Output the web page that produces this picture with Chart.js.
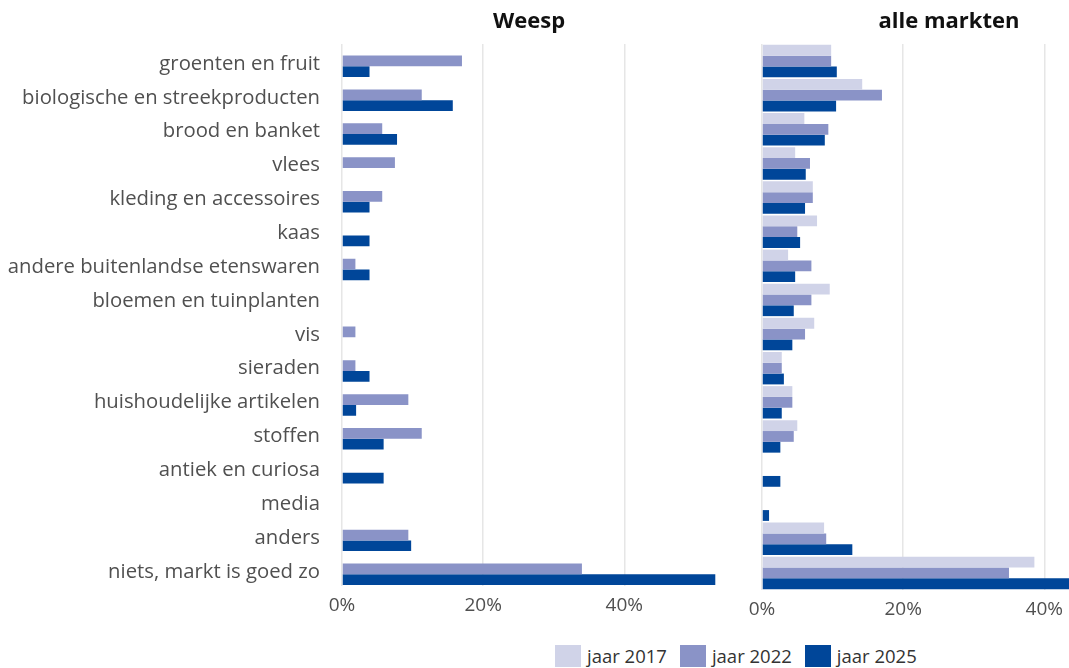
<!DOCTYPE html>
<html>
<head>
<meta charset="utf-8">
<script src="https://cdn.jsdelivr.net/npm/chart.js@4.4.1/dist/chart.umd.min.js"></script>
<style>
  html, body { margin: 0; padding: 0; background: #fff; }
  body { width: 1069px; height: 668px; overflow: hidden; position: relative; font-family: "Open Sans", sans-serif; }
  #leftBox { position: absolute; left: 0; top: 0; width: 720px; height: 620px; }
  #rightBox { position: absolute; left: 740px; top: 0; width: 400px; height: 620px; }
  #legend { position: absolute; left: 555px; top: 645px; display: flex; align-items: center; font-size: 18.5px; line-height: 22px; color: #333; white-space: nowrap; }
  #legend .item { display: flex; align-items: center; margin-right: 13px; }
  #legend .box { width: 26px; height: 22px; margin-right: 6px; }
</style>
</head>
<body>
<div id="leftBox"><canvas id="weespChart"></canvas></div>
<div id="rightBox"><canvas id="alleChart"></canvas></div>
<div id="legend"></div>

<script>
// categories (top to bottom)
const categories = [
    'groenten en fruit',
    'biologische en streekproducten',
    'brood en banket',
    'vlees',
    'kleding en accessoires',
    'kaas',
    'andere buitenlandse etenswaren',
    'bloemen en tuinplanten',
    'vis',
    'sieraden',
    'huishoudelijke artikelen',
    'stoffen',
    'antiek en curiosa',
    'media',
    'anders',
    'niets, markt is goed zo'
];

const seriesNames = ['jaar 2017', 'jaar 2022', 'jaar 2025'];
const seriesColors = ['#d0d3e8', '#8a93c7', '#004699'];

// Weesp (percentages)
const weesp2017 = [null, null, null, null, null, null, null, null, null, null, null, null, null, null, null, null];
const weesp2022 = [17.0, 11.3, 5.7, 7.5, 5.7, null, 1.9, null, 1.9, 1.9, 9.4, 11.3, null, null, 9.4, 34.0];
const weesp2025 = [3.9, 15.7, 7.8, null, 3.9, 3.9, 3.9, null, null, 3.9, 2.0, 5.9, 5.9, null, 9.8, 52.9];

// alle markten (percentages)
const alle2017 = [9.8, 14.2, 6.0, 4.7, 7.2, 7.8, 3.7, 9.6, 7.4, 2.8, 4.3, 5.0, null, null, 8.8, 38.6];
const alle2022 = [9.8, 17.0, 9.4, 6.8, 7.2, 5.0, 7.0, 7.0, 6.1, 2.8, 4.3, 4.5, null, null, 9.1, 35.0];
const alle2025 = [10.6, 10.5, 8.9, 6.2, 6.1, 5.4, 4.7, 4.5, 4.3, 3.1, 2.8, 2.6, 2.6, 1.0, 12.8, 43.6];

const xMax = 53;
const xTicks = [0, 20, 40];

const textColor = '#505050';
const gridColor = '#e6e6e6';
const fontName = 'Open Sans';

function buildDatasets(seriesValues) {
    return seriesValues.map(function(values, i) {
        return {
            label: seriesNames[i],
            data: values,
            backgroundColor: seriesColors[i],
            borderWidth: 0,
            barPercentage: 1.0,
            categoryPercentage: 0.95
        };
    });
}

function makeChart(canvasId, titleText, seriesValues, showLabels, yWidth) {
    const ctx = document.getElementById(canvasId);
    return new Chart(ctx, {
        type: 'bar',
        data: {
            labels: categories,
            datasets: buildDatasets(seriesValues)
        },
        options: {
            indexAxis: 'y',
            responsive: true,
            maintainAspectRatio: false,
            animation: false,
            layout: { padding: { top: 0, right: 4, bottom: 0, left: 0 } },
            plugins: {
                legend: { display: false },
                tooltip: { enabled: false },
                title: {
                    display: true,
                    text: titleText,
                    fullSize: false,
                    color: '#111',
                    font: { family: fontName, size: 22, weight: 'bold', lineHeight: 1.0 },
                    padding: { top: 11, bottom: 11 }
                }
            },
            scales: {
                x: {
                    min: 0,
                    max: xMax,
                    afterBuildTicks: function(scale) {
                        scale.ticks = xTicks.map(function(v) { return { value: v }; });
                    },
                    ticks: {
                        color: textColor,
                        padding: 8,
                        font: { family: fontName, size: 19 },
                        callback: function(v) { return v + '%'; }
                    },
                    grid: { color: gridColor, lineWidth: 1.5, drawTicks: false },
                    border: { display: false },
                    afterFit: function(scale) {
                        scale.height = 30;
                        scale.paddingRight = 0;
                        scale.paddingLeft = 0;
                    }
                },
                y: {
                    ticks: {
                        display: showLabels,
                        color: textColor,
                        padding: 22,
                        labelOffset: 3,
                        font: { family: fontName, size: 20.3 }
                    },
                    grid: { display: false, drawTicks: false },
                    border: { display: false },
                    afterFit: function(scale) { scale.width = yWidth; }
                }
            }
        }
    });
}

makeChart('weespChart', 'Weesp', [weesp2017, weesp2022, weesp2025], true, 342);
makeChart('alleChart', 'alle markten', [alle2017, alle2022, alle2025], false, 22);

// legend
const legendDiv = document.getElementById('legend');
seriesNames.forEach(function(name, i) {
    const item = document.createElement('div');
    item.className = 'item';
    item.innerHTML = '<div class="box" style="background:' + seriesColors[i] + '"></div><span>' + name + '</span>';
    legendDiv.appendChild(item);
});
</script>
</body>
</html>
